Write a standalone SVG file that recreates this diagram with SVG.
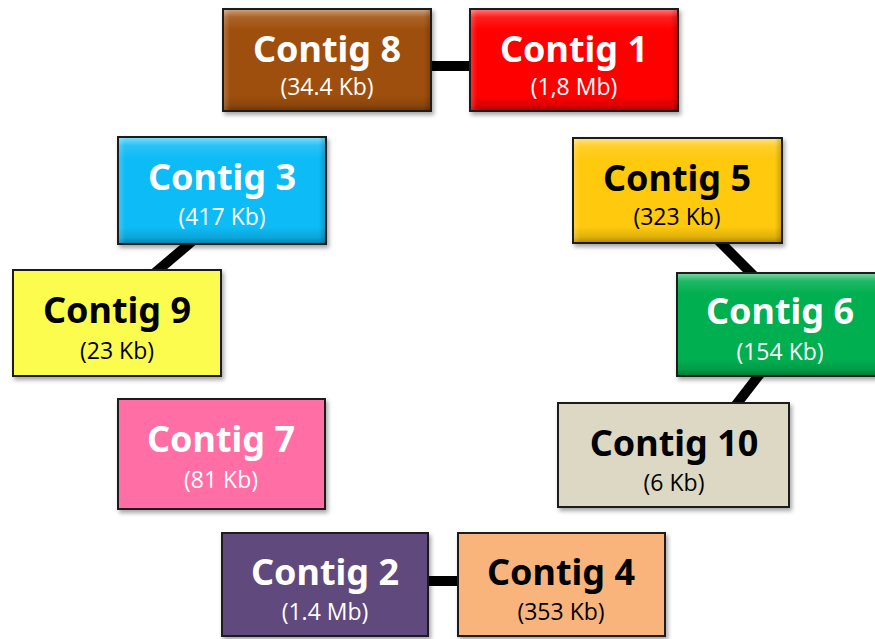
<svg xmlns="http://www.w3.org/2000/svg" width="875" height="639" viewBox="0 0 875 639">
  <defs>
    <filter id="shadow" x="-10%" y="-10%" width="125%" height="130%">
      <feDropShadow dx="2" dy="3" stdDeviation="2" flood-color="#000" flood-opacity="0.35"/>
    </filter>
    <linearGradient id="bevel" x1="0" y1="0" x2="0" y2="1">
      <stop offset="0" stop-color="#fff" stop-opacity="0.45"/>
      <stop offset="0.07" stop-color="#fff" stop-opacity="0.12"/>
      <stop offset="0.2" stop-color="#fff" stop-opacity="0"/>
      <stop offset="0.85" stop-color="#000" stop-opacity="0"/>
      <stop offset="0.95" stop-color="#000" stop-opacity="0.12"/>
      <stop offset="1" stop-color="#000" stop-opacity="0.3"/>
    </linearGradient>
    <linearGradient id="bevelSide" x1="0" y1="0" x2="1" y2="0">
      <stop offset="0" stop-color="#fff" stop-opacity="0.18"/>
      <stop offset="0.03" stop-color="#fff" stop-opacity="0"/>
      <stop offset="0.97" stop-color="#000" stop-opacity="0"/>
      <stop offset="1" stop-color="#000" stop-opacity="0.18"/>
    </linearGradient>
  </defs>
  <style>
    .box { stroke: #1a1a1a; stroke-width: 2; filter: url(#shadow); }
    .bev { fill: url(#bevel); }
    .bevs { fill: url(#bevelSide); }
    .title { font-family: "Noto Sans", "DejaVu Sans", sans-serif; font-weight: bold; font-size: 36px; text-anchor: middle; }
    .sub { font-family: "Open Sans", "Liberation Sans", sans-serif; font-size: 23px; text-anchor: middle; }
    .light { fill: #ffffff; }
    .dark { fill: #000000; }
    .link { stroke: #000; stroke-width: 10; fill: none; }
  </style>

  <g id="connectors">
    <line class="link" x1="425" y1="66" x2="476" y2="66"/>
    <line class="link" x1="196" y1="238" x2="150" y2="277"/>
    <line class="link" x1="714" y1="236" x2="758" y2="280"/>
    <line class="link" x1="763" y1="370" x2="732" y2="410"/>
    <line class="link" x1="422" y1="581" x2="464" y2="581"/>
  </g>

  <g id="contig8">
    <rect class="box" x="223" y="9" width="208" height="102" fill="#9F4F0E"/>
    <rect class="bev" x="224" y="10" width="206" height="100"/>
    <rect class="bevs" x="224" y="10" width="206" height="100"/>
    <text class="title light" x="327" y="62">Contig 8</text>
    <text class="sub light" x="327" y="95">(34.4 Kb)</text>
  </g>

  <g id="contig1">
    <rect class="box" x="470" y="9" width="208" height="102" fill="#FF0000"/>
    <rect class="bev" x="471" y="10" width="206" height="100"/>
    <rect class="bevs" x="471" y="10" width="206" height="100"/>
    <text class="title light" x="574" y="62">Contig 1</text>
    <text class="sub light" x="574" y="95">(1,8 Mb)</text>
  </g>

  <g id="contig3">
    <rect class="box" x="118" y="137" width="208" height="107" fill="#0DBBF6"/>
    <rect class="bev" x="119" y="138" width="206" height="105"/>
    <rect class="bevs" x="119" y="138" width="206" height="105"/>
    <text class="title light" x="222" y="190">Contig 3</text>
    <text class="sub light" x="222" y="225">(417 Kb)</text>
  </g>

  <g id="contig5">
    <rect class="box" x="573" y="138" width="209" height="105" fill="#FFC909"/>
    <rect class="bev" x="574" y="139" width="207" height="103"/>
    <rect class="bevs" x="574" y="139" width="207" height="103"/>
    <text class="title dark" x="677" y="191">Contig 5</text>
    <text class="sub dark" x="677" y="225">(323 Kb)</text>
  </g>

  <g id="contig9">
    <rect class="box" x="13" y="270" width="208" height="106" fill="#FCFC50"/>
    <text class="title dark" x="117" y="323">Contig 9</text>
    <text class="sub dark" x="117" y="359">(23 Kb)</text>
  </g>

  <g id="contig6">
    <rect class="box" x="677" y="273" width="208" height="103" fill="#00AF50"/>
    <rect class="bev" x="678" y="274" width="206" height="101"/>
    <text class="title light" x="780" y="324">Contig 6</text>
    <text class="sub light" x="780" y="360">(154 Kb)</text>
  </g>

  <g id="contig7">
    <rect class="box" x="118" y="399" width="207" height="110" fill="#FF6EA5"/>
    <text class="title light" x="221" y="452">Contig 7</text>
    <text class="sub light" x="221" y="488">(81 Kb)</text>
  </g>

  <g id="contig10">
    <rect class="box" x="558" y="403" width="231" height="104" fill="#DDD8C3"/>
    <text class="title dark" x="674" y="456">Contig 10</text>
    <text class="sub dark" x="674" y="491">(6 Kb)</text>
  </g>

  <g id="contig2">
    <rect class="box" x="222" y="533" width="206" height="103" fill="#604A7B"/>
    <text class="title light" x="325" y="585">Contig 2</text>
    <text class="sub light" x="325" y="620">(1.4 Mb)</text>
  </g>

  <g id="contig4">
    <rect class="box" x="458" y="533" width="207" height="103" fill="#F9B47B"/>
    <text class="title dark" x="561" y="585">Contig 4</text>
    <text class="sub dark" x="561" y="620">(353 Kb)</text>
  </g>
</svg>
